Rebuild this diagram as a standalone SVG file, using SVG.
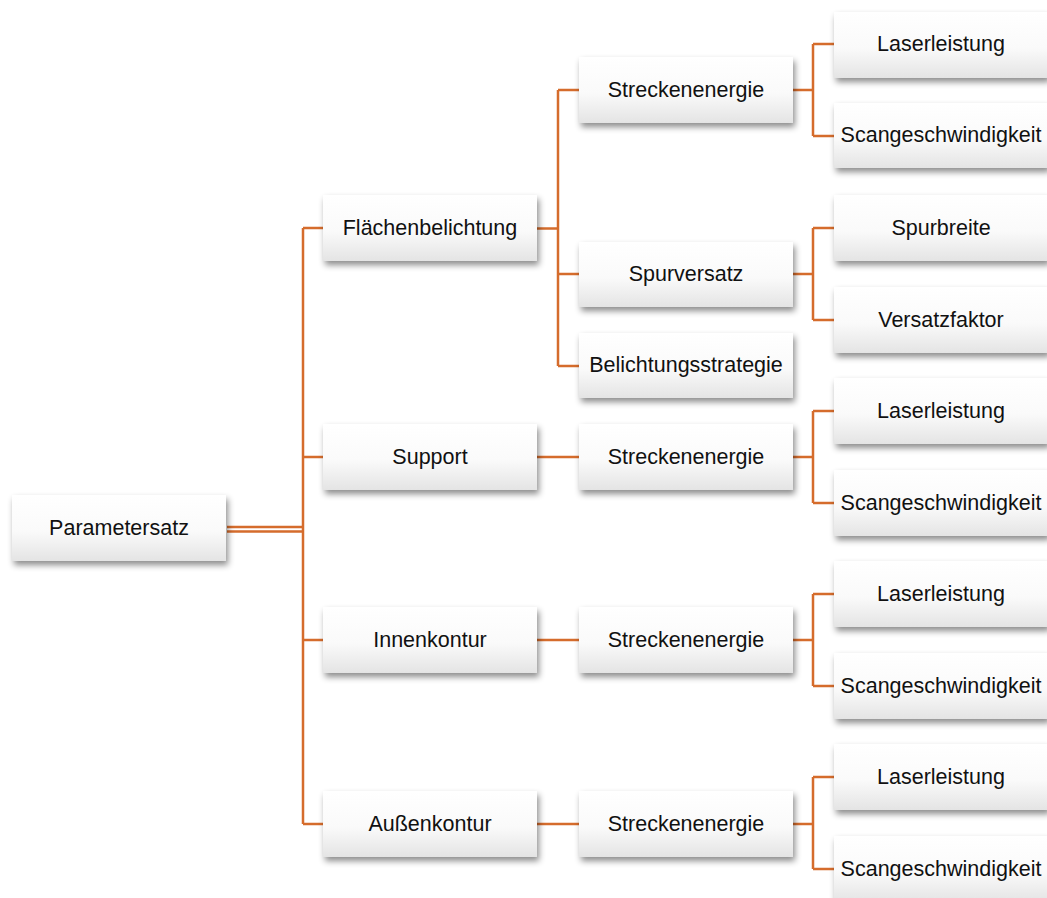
<svg xmlns="http://www.w3.org/2000/svg" width="1047" height="898" viewBox="0 0 1047 898">
<defs>
<linearGradient id="g" x1="0" y1="0" x2="0" y2="1">
<stop offset="0" stop-color="#ffffff"/>
<stop offset="0.55" stop-color="#fafafa"/>
<stop offset="1" stop-color="#e4e4e4"/>
</linearGradient>
<filter id="sh" x="-10%" y="-20%" width="130%" height="160%">
<feDropShadow dx="2" dy="4" stdDeviation="3" flood-color="#000" flood-opacity="0.45"/>
</filter>
</defs>
<style>
.b{fill:url(#g);filter:url(#sh)}
.t{font-family:"Liberation Sans",Arial,sans-serif;font-size:21.5px;fill:#111;text-anchor:middle;dominant-baseline:central}
.c{fill:none;stroke:#D56C2C;stroke-width:2.5}
</style>
<rect width="1047" height="898" fill="#fff"/>
<g id="connectors">
<path class="c" d="M227 527H303M227 531.5H303"/>
<path class="c" d="M303 228V824M303 228H323M303 457H323M303 640H323M303 824H323"/>
<path class="c" stroke-width="4" d="M537 228.5H558"/>
<path class="c" d="M558 90V366M558 90H579M558 274H579M558 366H579"/>
<path class="c" d="M537 457H579M537 640H579M537 824H579"/>
<path class="c" d="M793 90H813M813 44V136M813 44H834M813 136H834"/>
<path class="c" d="M793 274H813M813 228V320M813 228H834M813 320H834"/>
<path class="c" d="M793 457H813M813 411V503M813 411H834M813 503H834"/>
<path class="c" d="M793 640H813M813 594V686M813 594H834M813 686H834"/>
<path class="c" d="M793 824H813M813 777V869M813 777H834M813 869H834"/>
</g>
<g id="n-parametersatz"><rect class="b" x="12" y="495" width="214" height="66"/><text class="t" x="119" y="528">Parametersatz</text></g>
<g id="n-flaechenbelichtung"><rect class="b" x="323" y="195" width="214" height="66"/><text class="t" x="430" y="228">Flächenbelichtung</text></g>
<g id="n-support"><rect class="b" x="323" y="424" width="214" height="66"/><text class="t" x="430" y="457">Support</text></g>
<g id="n-innenkontur"><rect class="b" x="323" y="607" width="214" height="66"/><text class="t" x="430" y="640">Innenkontur</text></g>
<g id="n-aussenkontur"><rect class="b" x="323" y="791" width="214" height="66"/><text class="t" x="430" y="824">Außenkontur</text></g>
<g id="n-se1"><rect class="b" x="579" y="57" width="214" height="66"/><text class="t" x="686" y="90">Streckenenergie</text></g>
<g id="n-spurversatz"><rect class="b" x="579" y="242" width="214" height="65"/><text class="t" x="686" y="274">Spurversatz</text></g>
<g id="n-belichtungsstrategie"><rect class="b" x="579" y="333" width="214" height="65"/><text class="t" x="686" y="365">Belichtungsstrategie</text></g>
<g id="n-se2"><rect class="b" x="579" y="424" width="214" height="66"/><text class="t" x="686" y="457">Streckenenergie</text></g>
<g id="n-se3"><rect class="b" x="579" y="607" width="214" height="66"/><text class="t" x="686" y="640">Streckenenergie</text></g>
<g id="n-se4"><rect class="b" x="579" y="791" width="214" height="66"/><text class="t" x="686" y="824">Streckenenergie</text></g>
<g id="n-ll1"><rect class="b" x="834" y="12" width="214" height="66"/><text class="t" x="941" y="44">Laserleistung</text></g>
<g id="n-sg1"><rect class="b" x="834" y="103" width="214" height="65"/><text class="t" x="941" y="135">Scangeschwindigkeit</text></g>
<g id="n-spurbreite"><rect class="b" x="834" y="195" width="214" height="66"/><text class="t" x="941" y="228">Spurbreite</text></g>
<g id="n-versatzfaktor"><rect class="b" x="834" y="287" width="214" height="66"/><text class="t" x="941" y="320">Versatzfaktor</text></g>
<g id="n-ll2"><rect class="b" x="834" y="378" width="214" height="66"/><text class="t" x="941" y="411">Laserleistung</text></g>
<g id="n-sg2"><rect class="b" x="834" y="470" width="214" height="66"/><text class="t" x="941" y="503">Scangeschwindigkeit</text></g>
<g id="n-ll3"><rect class="b" x="834" y="561" width="214" height="66"/><text class="t" x="941" y="594">Laserleistung</text></g>
<g id="n-sg3"><rect class="b" x="834" y="653" width="214" height="66"/><text class="t" x="941" y="686">Scangeschwindigkeit</text></g>
<g id="n-ll4"><rect class="b" x="834" y="744" width="214" height="66"/><text class="t" x="941" y="777">Laserleistung</text></g>
<g id="n-sg4"><rect class="b" x="834" y="836" width="214" height="66"/><text class="t" x="941" y="869">Scangeschwindigkeit</text></g>
</svg>
